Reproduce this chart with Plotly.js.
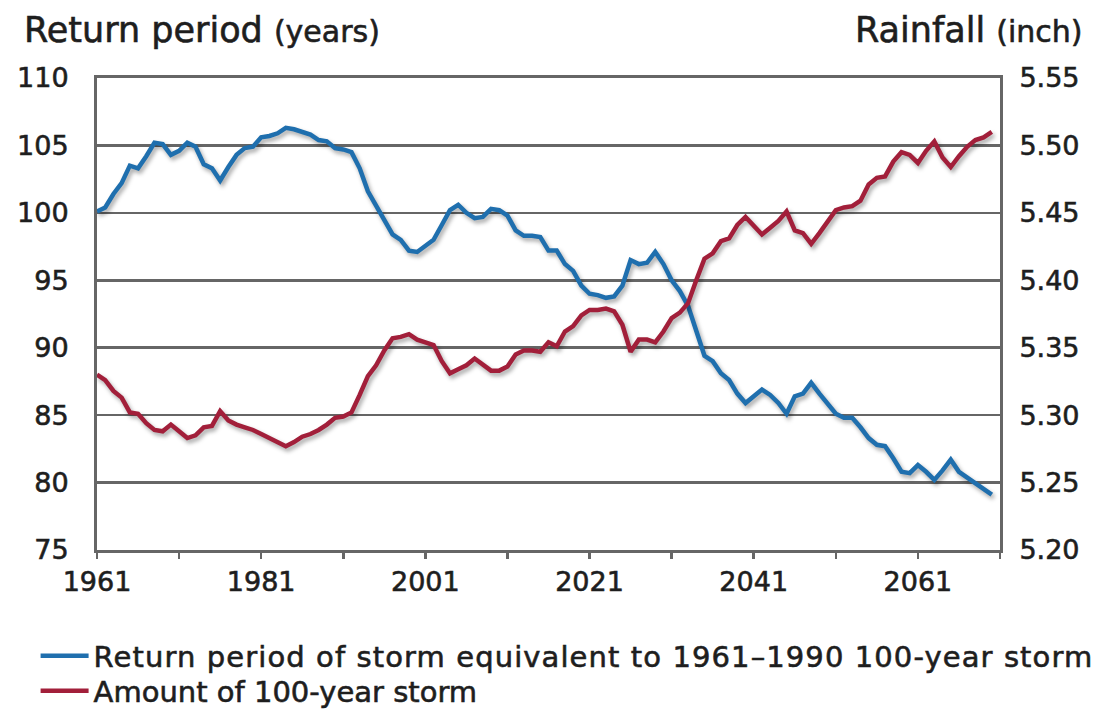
<!DOCTYPE html>
<html>
<head>
<meta charset="utf-8">
<script src="https://cdn.plot.ly/plotly-3.0.1.min.js"></script>
<style>
  html, body { margin: 0; padding: 0; background: #fff; }
  #chart { width: 1109px; height: 717px; }
  .scatterlayer .js-line { filter: drop-shadow(2px 3px 2px rgba(0,0,0,0.35)); }
  .main-svg text, .main-svg tspan { stroke: #1e1e1e; stroke-width: 0.6px; }
  .legend .legendtext { letter-spacing: 1.1px; }
  .legend .scrollbox { clip-path: none !important; }
</style>
</head>
<body>
<div id="chart"></div>
<script>
// ---- data ----
const startYear = 1961, endYear = 2070;
const years = [];
for (let y = startYear; y <= endYear; y++) years.push(y);

// Return period (years) of storm equivalent to 1961–1990 100-year storm
const returnPeriod = [
  100.1,100.4,101.4,102.2,103.5,103.3,104.2,105.2,105.1,104.3,
  104.6,105.2,104.9,103.6,103.3,102.4,103.4,104.3,104.8,104.9,
  105.6,105.7,105.9,106.3,106.2,106.0,105.8,105.4,105.3,104.8,
  104.7,104.5,103.3,101.6,100.5,99.4,98.4,98.0,97.2,97.1,
  97.6,98.0,99.1,100.2,100.6,100.0,99.6,99.7,100.3,100.2,
  99.8,98.7,98.3,98.3,98.2,97.2,97.2,96.2,95.7,94.6,
  94.0,93.9,93.7,93.8,94.6,96.5,96.2,96.3,97.1,96.2,
  95.0,94.2,93.1,91.3,89.4,89.0,88.1,87.6,86.6,85.9,
  86.4,86.9,86.5,85.9,85.1,86.4,86.6,87.4,86.6,85.9,
  85.1,84.8,84.8,84.1,83.3,82.8,82.7,81.8,80.8,80.7,
  81.3,80.8,80.2,80.9,81.7,80.8,80.4,80.0,79.6,79.1
];

// Amount of 100-year storm (inch)
const rainfall = [
  5.330,5.326,5.318,5.313,5.302,5.301,5.294,5.289,5.288,5.293,
  5.288,5.283,5.285,5.291,5.292,5.303,5.296,5.293,5.291,5.289,
  5.286,5.283,5.280,5.277,5.280,5.284,5.286,5.289,5.293,5.298,
  5.299,5.302,5.315,5.329,5.337,5.348,5.357,5.358,5.360,5.356,
  5.354,5.352,5.340,5.331,5.334,5.337,5.342,5.337,5.333,5.333,
  5.336,5.345,5.348,5.348,5.347,5.354,5.351,5.362,5.366,5.374,
  5.378,5.378,5.379,5.377,5.367,5.347,5.356,5.356,5.354,5.362,
  5.372,5.376,5.383,5.400,5.416,5.420,5.429,5.431,5.441,5.447,
  5.440,5.434,5.439,5.444,5.451,5.437,5.435,5.427,5.435,5.443,
  5.452,5.454,5.455,5.459,5.471,5.476,5.477,5.488,5.495,5.493,
  5.487,5.496,5.503,5.491,5.484,5.492,5.499,5.504,5.506,5.510
];

const xTickVals = [1961,1971,1981,1991,2001,2011,2021,2031,2041,2051,2061,2071];
const xTickText = ['1961','','1981','','2001','','2021','','2041','','2061',''];
const leftTicks = [75,80,85,90,95,100,105,110];
const rightTickVals = [5.20,5.25,5.30,5.35,5.40,5.45,5.50,5.55];
const rightTickText = ['5.20','5.25','5.30','5.35','5.40','5.45','5.50','5.55'];

const seriesNames = [
  'Return period of storm equivalent to 1961–1990 100-year storm',
  'Amount of 100-year storm'
];

// ---- chart ----
const FONT = 'DejaVu Sans, Arial, sans-serif';
const TXT = '#1e1e1e';
const GRID = '#666666';

const traces = [
  {
    x: years, y: returnPeriod, type: 'scatter', mode: 'lines',
    name: seriesNames[0], yaxis: 'y', legend: 'legend',
    line: { color: '#1f6fae', width: 4.5 }
  },
  {
    x: years, y: rainfall, type: 'scatter', mode: 'lines',
    name: seriesNames[1], yaxis: 'y2', legend: 'legend2',
    line: { color: '#a21f3a', width: 4.5 }
  }
];

const legendCommon = {
  orientation: 'v', xref: 'paper', yref: 'paper',
  xanchor: 'left', yanchor: 'middle',
  font: { family: FONT, size: 29, color: TXT },
  bgcolor: 'rgba(0,0,0,0)', itemwidth: 48
};

const layout = {
  width: 1109, height: 717,
  margin: { l: 97, r: 109, t: 78, b: 167, autoexpand: false },
  paper_bgcolor: '#ffffff', plot_bgcolor: '#ffffff',
  font: { family: FONT, size: 27, color: TXT },
  showlegend: true,
  legend: Object.assign({}, legendCommon, { x: -0.068, y: -0.2245 }),
  legend2: Object.assign({}, legendCommon, { x: -0.068, y: -0.2987 }),
  xaxis: {
    range: [1961, 2071],
    tickvals: xTickVals, ticktext: xTickText,
    ticks: 'outside', ticklen: 6, tickwidth: 2.5, tickcolor: GRID,
    showline: true, linecolor: GRID, linewidth: 3, mirror: true,
    showgrid: false, zeroline: false, automargin: false,
    tickfont: { family: FONT, size: 27, color: TXT }
  },
  yaxis: {
    range: [75, 110],
    tickvals: leftTicks,
    showline: true, linecolor: GRID, linewidth: 3,
    showgrid: true, gridcolor: GRID, gridwidth: 2.5,
    zeroline: false, ticks: '', automargin: false,
    ticklabelstandoff: 20,
    tickfont: { family: FONT, size: 27, color: TXT }
  },
  yaxis2: {
    range: [5.20, 5.55],
    overlaying: 'y', side: 'right',
    tickvals: rightTickVals, ticktext: rightTickText,
    showline: true, linecolor: GRID, linewidth: 3,
    showgrid: false, zeroline: false, ticks: '', automargin: false,
    ticklabelstandoff: 11,
    tickfont: { family: FONT, size: 27, color: TXT }
  },
  annotations: [
    {
      xref: 'paper', yref: 'paper', x: -0.083, y: 1.102,
      xanchor: 'left', yanchor: 'middle', showarrow: false,
      text: 'Return period <span style="font-size:30px">(years)</span>',
      font: { family: FONT, size: 35, color: TXT }
    },
    {
      xref: 'paper', yref: 'paper', x: 1.094, y: 1.102,
      xanchor: 'right', yanchor: 'middle', showarrow: false,
      text: 'Rainfall <span style="font-size:30px">(inch)</span>',
      font: { family: FONT, size: 35, color: TXT }
    }
  ]
};

Plotly.newPlot('chart', traces, layout, { displayModeBar: false, staticPlot: true });
</script>
</body>
</html>
